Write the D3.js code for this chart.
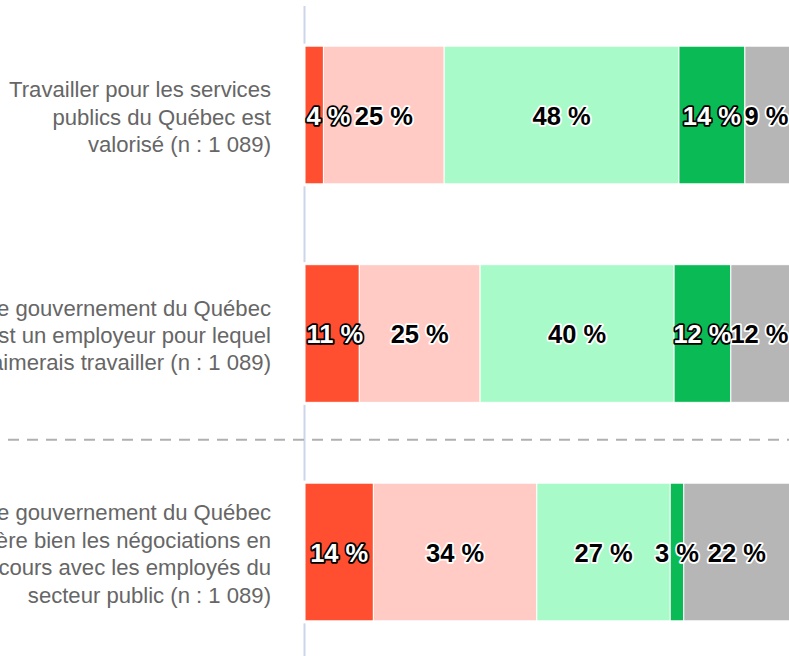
<!DOCTYPE html>
<html>
<head>
<meta charset="utf-8">
<script src="https://cdn.jsdelivr.net/npm/d3@7"></script>
<style>
  body { margin: 0; background: #fff; }
  svg { display: block; }
</style>
</head>
<body>
<div id="chart"></div>
<script>
// categories (wrapped as in the picture)
var categories = ["valorise", "employeur", "negociations"];
var categoryLines = [
    ["Travailler pour les services", "publics du Québec est", "valorisé (n : 1 089)"],
    ["Le gouvernement du Québec", "est un employeur pour lequel", "j'aimerais travailler (n : 1 089)"],
    ["Le gouvernement du Québec", "gère bien les négociations en", "cours avec les employés du", "secteur public (n : 1 089)"]
];
var seriesKeys = ["tout_desaccord", "plutot_desaccord", "plutot_accord", "tout_accord", "nsp"];
// values in %
var toutDesaccord   = [3.8, 11.2, 14.1];
var plutotDesaccord = [24.9, 24.9, 33.7];
var plutotAccord    = [48.4, 40.0, 27.5];
var toutAccord      = [13.6, 11.7, 2.8];
var nsp             = [9.3, 12.2, 21.9];
// labels shown on the bars
var labelValues = [
    [4, 25, 48, 14, 9],
    [11, 25, 40, 12, 12],
    [14, 34, 27, 3, 22]
];

function chart() {
    var width = 789;
    var height = 656;
    var left = 305, right = 790;

    var colors = ["#ff4f30", "#ffcbc4", "#a8fac9", "#0abb55", "#b6b6b6"];
    var darkSeries = [true, false, false, true, false];

    var dataset = categories.map(function(c, i) {
        return {
            cat: c,
            tout_desaccord: toutDesaccord[i],
            plutot_desaccord: plutotDesaccord[i],
            plutot_accord: plutotAccord[i],
            tout_accord: toutAccord[i],
            nsp: nsp[i]
        };
    });

    var series = d3.stack().keys(seriesKeys)(dataset);

    var canvas = d3.select("#chart")
                    .append("svg")
                    .attr("width", width)
                    .attr("height", height);

    var xScale = d3.scaleLinear()
                    .domain([0, 100])
                    .range([left, right]);

    var yScale = d3.scaleBand()
                    .domain(categories)
                    .range([5.75, 661.25])
                    .paddingInner(0.37)
                    .paddingOuter(0.185);

    // category axis line
    canvas.append("line")
        .attr("x1", left - 0.5).attr("x2", left - 0.5)
        .attr("y1", 6).attr("y2", height)
        .attr("stroke", "#ccd6eb")
        .attr("stroke-width", 2);

    // separator between the second and third question
    canvas.append("line")
        .attr("x1", 0).attr("x2", width)
        .attr("y1", yScale(categories[2]) - 43.5)
        .attr("y2", yScale(categories[2]) - 43.5)
        .attr("stroke", "#b0b0b0")
        .attr("stroke-width", 2)
        .attr("stroke-dasharray", "11,8")
        .attr("stroke-dashoffset", 11);

    // white gap around the bars over the axis line
    canvas.selectAll(".gap")
        .data(categories)
        .enter()
        .append("rect")
        .attr("x", left - 4)
        .attr("y", function(d) { return yScale(d) - 2.5; })
        .attr("width", 10)
        .attr("height", yScale.bandwidth() + 5)
        .attr("fill", "#fff");

    var groups = canvas.selectAll("g.series")
            .data(series)
            .enter()
            .append("g")
            .attr("class", "series")
            .style("fill", function(d, i) { return colors[i]; });

    groups.selectAll("rect")
        .data(function(d) { return d; })
        .enter()
        .append("rect")
        .attr("x", function(d) { return xScale(d[0]); })
        .attr("y", function(d, i) { return yScale(categories[i]); })
        .attr("width", function(d) { return xScale(d[1]) - xScale(d[0]); })
        .attr("height", yScale.bandwidth())
        .attr("stroke", "#fff")
        .attr("stroke-width", 1);

    // category labels
    var lineH = 27.4;
    categories.forEach(function(c, i) {
        var lines = categoryLines[i];
        var cy = yScale(c) + yScale.bandwidth() / 2;
        var y0 = cy - (lines.length - 1) / 2 * lineH + 9.5;
        var t = canvas.append("text")
            .attr("text-anchor", "end")
            .attr("font-family", "'Liberation Sans', Arial, sans-serif")
            .attr("font-size", "22.1px")
            .attr("fill", "#666666");
        lines.forEach(function(l, j) {
            t.append("tspan")
                .attr("x", 271)
                .attr("y", y0 + j * lineH)
                .text(l);
        });
    });

    // data labels
    series.forEach(function(s, si) {
        s.forEach(function(d, i) {
            var x0 = xScale(d[0]), x1 = xScale(d[1]);
            var v = labelValues[i][si];
            var light = darkSeries[si] && v >= 4;
            var t = canvas.append("text")
                .attr("font-family", "'Liberation Sans', Arial, sans-serif")
                .attr("font-size", "25.5px")
                .attr("font-weight", "bold")
                .attr("text-anchor", "middle")
                .attr("y", yScale(categories[i]) + yScale.bandwidth() / 2 + 9.5)
                .attr("fill", light ? "#ffffff" : "#000000")
                .attr("stroke", light ? "#000000" : "#ffffff")
                .attr("stroke-width", 3.5)
                .attr("stroke-linejoin", "round")
                .attr("paint-order", "stroke")
                .text(v + " %");
            var w = t.node().getComputedTextLength() + 3;
            var cx = (x0 + x1) / 2;
            cx = Math.max(left + w / 2, Math.min(right - w / 2, cx));
            t.attr("x", cx);
        });
    });
}

window.onload = chart;
</script>
</body>
</html>
